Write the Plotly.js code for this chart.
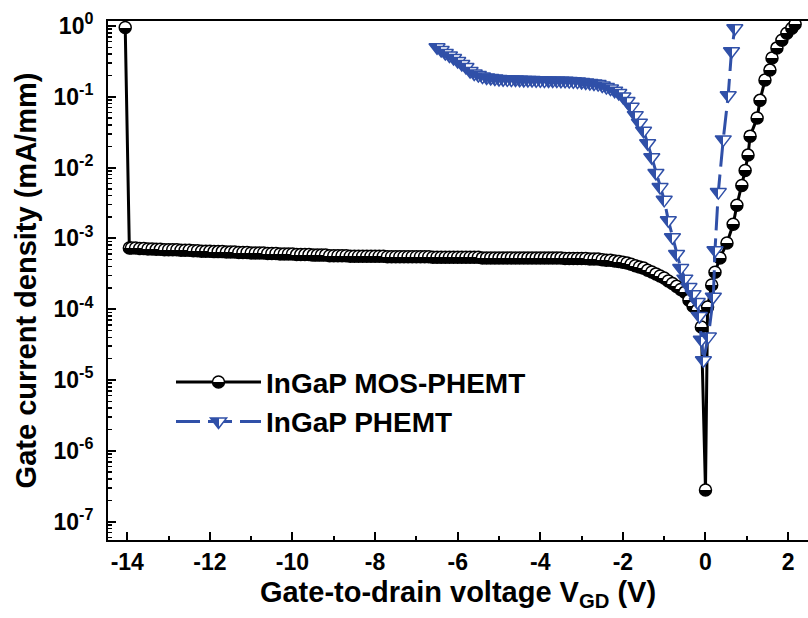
<!DOCTYPE html>
<html><head><meta charset="utf-8">
<script src="https://cdn.plot.ly/plotly-3.0.1.min.js"></script>
<style>html,body{margin:0;padding:0;background:#fff;} #chart{width:808px;height:618px;}</style>
</head><body><div id="chart"></div>
<script>
// ---------- data ----------
const mosName = 'InGaP MOS-PHEMT';
const phemtName = 'InGaP PHEMT';

const mosV = [-14.05, -13.95,
 -13.9,-13.8,-13.7,-13.6,-13.5,-13.4,-13.3,-13.2,-13.1,-13.0,
 -12.9,-12.8,-12.7,-12.6,-12.5,-12.4,-12.3,-12.2,-12.1,-12.0,
 -11.9,-11.8,-11.7,-11.6,-11.5,-11.4,-11.3,-11.2,-11.1,-11.0,
 -10.9,-10.8,-10.7,-10.6,-10.5,-10.4,-10.3,-10.2,-10.1,-10.0,
 -9.9,-9.8,-9.7,-9.6,-9.5,-9.4,-9.3,-9.2,-9.1,-9.0,
 -8.9,-8.8,-8.7,-8.6,-8.5,-8.4,-8.3,-8.2,-8.1,-8.0,
 -7.9,-7.8,-7.7,-7.6,-7.5,-7.4,-7.3,-7.2,-7.1,-7.0,
 -6.9,-6.8,-6.7,-6.6,-6.5,-6.4,-6.3,-6.2,-6.1,-6.0,
 -5.9,-5.8,-5.7,-5.6,-5.5,-5.4,-5.3,-5.2,-5.1,-5.0,
 -4.9,-4.8,-4.7,-4.6,-4.5,-4.4,-4.3,-4.2,-4.1,-4.0,
 -3.9,-3.8,-3.7,-3.6,-3.5,-3.4,-3.3,-3.2,-3.1,-3.0,
 -2.9,-2.8,-2.7,-2.6,-2.5,-2.4,-2.3,-2.2,-2.1,-2.0,
 -1.9,-1.8,-1.7,-1.6,-1.5,-1.4,-1.3,-1.2,-1.1,-1.0,
 -0.9,-0.8,-0.7,-0.6,-0.5,-0.4,-0.3,-0.2,-0.1,
 0.0, 0.05,
 0.15,0.23,0.35,0.52,0.67,0.76,0.88,0.96,1.03,1.08,
 1.25,1.32,1.44,1.56,1.61,1.73,1.85,1.97,2.09,2.17];

const mosJ = [0.95, 7.3e-4,
 7.3e-4,7.3e-4,7.2e-4,7.2e-4,7.1e-4,7.1e-4,7.0e-4,7.0e-4,6.9e-4,6.9e-4,
 6.9e-4,6.9e-4,6.8e-4,6.8e-4,6.8e-4,6.7e-4,6.7e-4,6.6e-4,6.6e-4,6.6e-4,
 6.5e-4,6.5e-4,6.5e-4,6.4e-4,6.4e-4,6.4e-4,6.3e-4,6.3e-4,6.3e-4,6.2e-4,
 6.2e-4,6.2e-4,6.2e-4,6.1e-4,6.1e-4,6.1e-4,6.0e-4,6.0e-4,6.0e-4,6.0e-4,
 5.9e-4,5.9e-4,5.9e-4,5.9e-4,5.8e-4,5.8e-4,5.8e-4,5.8e-4,5.7e-4,5.7e-4,
 5.7e-4,5.7e-4,5.7e-4,5.6e-4,5.6e-4,5.6e-4,5.6e-4,5.6e-4,5.6e-4,5.6e-4,
 5.6e-4,5.6e-4,5.5e-4,5.5e-4,5.5e-4,5.5e-4,5.5e-4,5.5e-4,5.5e-4,5.5e-4,
 5.5e-4,5.5e-4,5.5e-4,5.4e-4,5.4e-4,5.4e-4,5.4e-4,5.4e-4,5.4e-4,5.4e-4,
 5.4e-4,5.4e-4,5.4e-4,5.4e-4,5.4e-4,5.3e-4,5.3e-4,5.3e-4,5.3e-4,5.3e-4,
 5.3e-4,5.3e-4,5.3e-4,5.3e-4,5.3e-4,5.3e-4,5.3e-4,5.3e-4,5.3e-4,5.3e-4,
 5.3e-4,5.3e-4,5.3e-4,5.3e-4,5.3e-4,5.2e-4,5.2e-4,5.2e-4,5.2e-4,5.2e-4,
 5.2e-4,5.1e-4,5.1e-4,5.1e-4,5.0e-4,4.9e-4,4.9e-4,4.8e-4,4.7e-4,4.6e-4,
 4.5e-4,4.3e-4,4.1e-4,3.95e-4,3.8e-4,3.55e-4,3.35e-4,3.15e-4,2.95e-4,2.75e-4,
 2.5e-4,2.3e-4,2.1e-4,1.9e-4,1.74e-4,1.34e-4,1.1e-4,9.7e-5,5.6e-5,
 2.8e-7, 1.07e-4,
 2.19e-4,3.33e-4,5.27e-4,8.6e-4,1.58e-3,2.94e-3,5.6e-3,9.1e-3,0.015,0.0278,
 0.050,0.089,0.172,0.238,0.352,0.49,0.63,0.79,0.93,1.06];

const phemtV = [
 -6.5,-6.4,-6.3,-6.2,-6.1,-6.0,-5.9,-5.8,-5.7,-5.6,-5.5,-5.4,-5.3,-5.2,-5.1,-5.0,
 -4.9,-4.8,-4.7,-4.6,-4.5,-4.4,-4.3,-4.2,-4.1,-4.0,
 -3.9,-3.8,-3.7,-3.6,-3.5,-3.4,-3.3,-3.2,-3.1,-3.0,
 -2.9,-2.8,-2.7,-2.6,-2.5,-2.4,-2.3,-2.2,-2.1,-2.0,
 -1.9,-1.8,-1.7,-1.6,-1.5,-1.4,-1.3,-1.2,-1.1,-1.0,
 -0.9,-0.8,-0.7,-0.6,-0.5,-0.4,-0.3,-0.2,
 -0.15,-0.1,-0.05,
 0.07,0.19,0.23,0.31,0.43,0.55,0.63,0.71];

const phemtJ = [
 0.50,0.457,0.414,0.382,0.352,0.319,0.290,0.263,0.231,0.213,0.203,0.193,0.187,0.184,0.181,0.178,
 0.177,0.176,0.175,0.175,0.174,0.173,0.172,0.172,0.171,0.171,
 0.170,0.170,0.169,0.169,0.168,0.168,0.167,0.166,0.164,0.162,
 0.159,0.156,0.154,0.151,0.144,0.137,0.131,0.122,0.113,0.101,
 0.087,0.072,0.055,0.043,0.033,0.022,0.014,0.0084,0.0053,0.0035,
 0.0018,0.00104,0.00060,0.00038,0.00027,0.000205,0.000163,0.000126,
 8.0e-5,3.7e-5,1.9e-5,
 4.1e-5,1.5e-4,6.8e-4,4.5e-3,0.025,0.105,0.44,0.93];

const xTickVals = [-14,-12,-10,-8,-6,-4,-2,0,2];
const xTickText = ['-14','-12','-10','-8','-6','-4','-2','0','2'];
const xMinorVals = [-13,-11,-9,-7,-5,-3,-1,1];
const yTickVals = [1e-7,1e-6,1e-5,1e-4,1e-3,1e-2,1e-1,1];
const yTickText = ['10<sup>-7</sup>','10<sup>-6</sup>','10<sup>-5</sup>','10<sup>-4</sup>',
                   '10<sup>-3</sup>','10<sup>-2</sup>','10<sup>-1</sup>','10<sup>0</sup>'];
const yMinorVals = [];
for (let e = -8; e <= 0; e++) for (let m = 2; m <= 9; m++) yMinorVals.push(m * Math.pow(10, e));

const xTitle = 'Gate-to-drain voltage V<sub>GD</sub> (V)';
const yTitle = 'Gate current density (mA/mm)';

// ---------- style ----------
const BLUE = '#3050a8';
const FAM = 'Liberation Sans, Arial, sans-serif';
const bold = (size) => ({family: FAM, size: size, color: '#000', weight: 'bold'});

const traces = [
  {x: mosV, y: mosJ, name: mosName, uid: 'mos', type: 'scatter', mode: 'lines+markers',
   legendgroup: 'a',
   line: {color: '#000', width: 3},
   marker: {symbol: 'circle', size: 12, color: '#000',
            gradient: {type: 'vertical', color: '#fff'},
            line: {color: '#000', width: 1.5}}},
  {x: phemtV, y: phemtJ, name: phemtName, uid: 'phemt', type: 'scatter', mode: 'lines+markers',
   legendgroup: 'b',
   line: {color: BLUE, width: 3, dash: '24px,8px'},
   marker: {symbol: 'triangle-down', size: 14, color: BLUE,
            gradient: {type: 'horizontal', color: '#fff'},
            line: {color: BLUE, width: 1.5}}}
];

const layout = {
  width: 808, height: 618,
  margin: {l: 108, r: 0, t: 21, b: 78},
  paper_bgcolor: '#fff', plot_bgcolor: '#fff',
  font: bold(23),
  showlegend: true,
  legend: {x: 0.09, y: 0.352, xanchor: 'left', yanchor: 'top', bgcolor: 'rgba(0,0,0,0)',
           font: bold(28), itemwidth: 85, traceorder: 'grouped', tracegroupgap: 0},
  xaxis: {range: [-14.467, 2.482], tickmode: 'array', tickvals: xTickVals, ticktext: xTickText,
          ticks: 'inside', ticklen: 8, tickwidth: 2, tickcolor: '#000',
          showline: true, linecolor: '#000', linewidth: 2, mirror: true,
          showgrid: false, zeroline: false, tickfont: bold(23),
          minor: {tickmode: 'array', tickvals: xMinorVals, ticks: 'inside', ticklen: 4, tickwidth: 2, tickcolor: '#000', showgrid: false},
          title: {text: xTitle, font: bold(29), standoff: 8}},
  yaxis: {type: 'log', range: [-7.26, 0.07], tickmode: 'array', tickvals: yTickVals, ticktext: yTickText,
          ticks: 'inside', ticklen: 8, tickwidth: 2, tickcolor: '#000',
          showline: true, linecolor: '#000', linewidth: 2, mirror: false,
          showgrid: false, zeroline: false, tickfont: bold(23), ticklabelstandoff: 8,
          minor: {tickmode: 'array', tickvals: yMinorVals, ticks: 'inside', ticklen: 4, tickwidth: 1.5, tickcolor: '#000', showgrid: false},
          title: {text: yTitle, font: bold(29), standoff: 8}}
};

function setStops(g, stops) {
  while (g.firstChild) g.removeChild(g.firstChild);
  const ns = 'http://www.w3.org/2000/svg';
  stops.forEach(s => {
    const st = document.createElementNS(ns, 'stop');
    st.setAttribute('offset', s[0]);
    st.setAttribute('stop-color', s[1]);
    st.setAttribute('stop-opacity', '1');
    g.appendChild(st);
  });
}
function halfFill(gd) {
  gd.querySelectorAll('linearGradient').forEach(g => {
    const id = g.getAttribute('id') || '';
    if (id.indexOf('phemt') >= 0) {
      g.setAttribute('x1', '0'); g.setAttribute('y1', '0'); g.setAttribute('x2', '1'); g.setAttribute('y2', '0');
      setStops(g, [['0', BLUE], ['0.5', BLUE], ['0.5', '#fff'], ['1', '#fff']]);
    } else if (id.indexOf('mos') >= 0) {
      g.setAttribute('x1', '0'); g.setAttribute('y1', '0'); g.setAttribute('x2', '0'); g.setAttribute('y2', '1');
      setStops(g, [['0', '#fff'], ['0.5', '#fff'], ['0.5', '#000'], ['1', '#000']]);
    }
  });
}

Plotly.newPlot('chart', traces, layout, {displayModeBar: false, staticPlot: true}).then(halfFill);
</script>
</body></html>
